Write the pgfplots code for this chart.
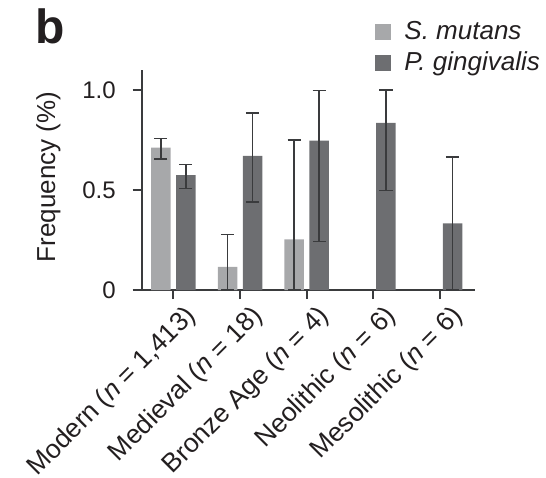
\documentclass[border=0pt]{standalone}
\usepackage{fontspec}
\setmainfont{Liberation Sans}
\usepackage{pgfplots}
\pgfplotsset{compat=1.18}
\definecolor{smut}{HTML}{A7A8AA}
\definecolor{pgin}{HTML}{6D6E71}
\definecolor{axc}{HTML}{3A3B3D}
\definecolor{txt}{HTML}{231F20}
\begin{document}
\begin{tikzpicture}
\path[use as bounding box] (-70.85pt,-93.5pt) rectangle (202.15pt,145pt);
\begin{axis}[
  at={(0,0)}, anchor=south west,
  scale only axis, width=166.7pt, height=110pt,
  xmin=-0.475, xmax=4.525, ymin=0, ymax=1.1,
  axis x line*=bottom, axis y line*=left,
  axis line style={axc, line width=1pt},
  tick style={axc, line width=1pt},
  tick align=outside, major tick length=4.5pt,
  xtick={0,1,2,3,4},
  xticklabels={{Modern (\textit{n} = 1,413)}, {Medieval (\textit{n} = 18)}, {Bronze Age (\textit{n} = 4)}, {Neolithic (\textit{n} = 6)}, {Mesolithic (\textit{n} = 6)}},
  ytick={0,0.5,1}, yticklabels={0,0.5,1.0},
  /pgf/number format/assume math mode=true,
  every tick label/.append style={font=\fontsize{12}{14}\selectfont, text=txt},
  yticklabel style={xshift=-5pt},
  xticklabel style={rotate=45, anchor=north east, inner sep=1pt, xshift=3pt, yshift=-4pt, font=\fontsize{13.2}{15}\selectfont},
  ylabel={Frequency (\%)},
  ylabel style={at={(axis description cs:-0.28,0.514)}, anchor=center, font=\fontsize{13}{15}\selectfont, text=txt},
  ybar, bar width=9.75pt,
  legend style={draw=none, fill=none, at={(axis description cs:0.70,1.235)}, anchor=north west,
    font=\fontsize{13}{15}\selectfont\itshape, text=txt, row sep=2.5pt, column sep=4.5pt, inner sep=0pt,
    nodes={inner ysep=1.2pt}},
  legend cell align=left,
  legend image code/.code={\fill[#1, draw=none] (0pt,-4pt) rectangle (8pt,4pt);},
  clip=false,
]
\addplot[fill=smut, draw=none, bar shift=-6.25pt,
  error bars/.cd, y dir=both, y explicit,
  error bar style={axc, line width=0.75pt},
  error mark options={axc, line width=0.75pt, mark size=3.3pt, rotate=90}]
  coordinates {
  (0,0.712) += (0,0.045) -= (0,0.056)
  (1,0.116) += (0,0.161) -= (0,0.116)
  (2,0.253) += (0,0.496) -= (0,0.253)
  };
\addlegendentry{S. mutans}
\addplot[fill=pgin, draw=none, bar shift=6.25pt,
  error bars/.cd, y dir=both, y explicit,
  error bar style={axc, line width=0.75pt},
  error mark options={axc, line width=0.75pt, mark size=3.3pt, rotate=90}]
  coordinates {
  (0,0.575) += (0,0.052) -= (0,0.067)
  (1,0.671) += (0,0.215) -= (0,0.231)
  (2,0.747) += (0,0.250) -= (0,0.504)
  (3,0.836) += (0,0.164) -= (0,0.339)
  (4,0.333) += (0,0.331) -= (0,0.333)
  };
\addlegendentry{P. gingivalis}
\node[font=\fontsize{24}{26}\selectfont\bfseries, text=txt] at (axis description cs:-0.275,1.2) {b};
\end{axis}
\end{tikzpicture}
\end{document}
